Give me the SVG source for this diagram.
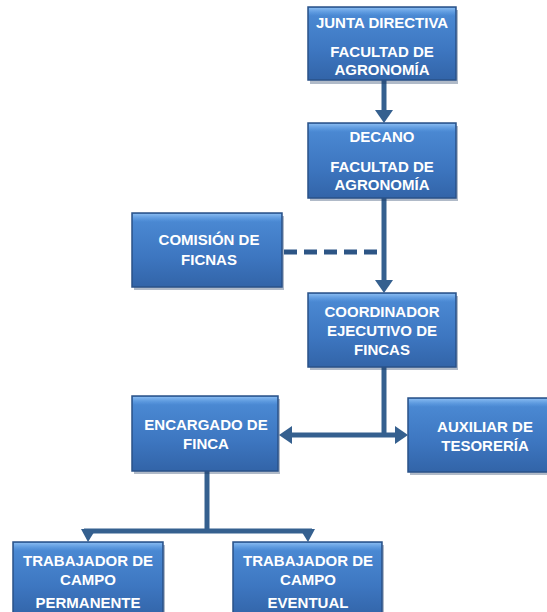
<svg xmlns="http://www.w3.org/2000/svg" width="547" height="612" viewBox="0 0 547 612">
  <defs>
    <linearGradient id="boxFill" x1="0" y1="0" x2="0" y2="1">
      <stop offset="0" stop-color="#5a9ae2"/>
      <stop offset="0.12" stop-color="#4a88d2"/>
      <stop offset="0.6" stop-color="#3d76c0"/>
      <stop offset="1" stop-color="#3264a8"/>
    </linearGradient>
    <linearGradient id="bevelTop" x1="0" y1="0" x2="0" y2="1">
      <stop offset="0" stop-color="#8bbcf0" stop-opacity="0.9"/>
      <stop offset="1" stop-color="#5a9ae2" stop-opacity="0"/>
    </linearGradient>
    <style>
      .box { fill: url(#boxFill); stroke: #2a5288; stroke-width: 1.5; }
      .bev { fill: url(#bevelTop); stroke: none; }
      .shadow { fill: #1d3a60; opacity: 0.35; }
      .lbl { font-family: "Liberation Sans", Arial, sans-serif; font-weight: bold; font-size: 15px; fill: #ffffff; text-anchor: middle; }
      .conn { stroke: #35608f; stroke-width: 5; fill: none; }
      .dash { stroke: #2d5585; stroke-width: 5; fill: none; stroke-dasharray: 13 7; }
      .head { fill: #35608f; }
    </style>
  </defs>

  <g id="connectors">
    <line class="conn" x1="384" y1="80" x2="384" y2="112"/>
    <polygon class="head" points="375,110 393,110 384,123"/>
    <line class="conn" x1="384" y1="198" x2="384" y2="282"/>
    <polygon class="head" points="375,280 393,280 384,293"/>
    <line class="dash" x1="284" y1="252" x2="382" y2="252"/>
    <line class="conn" x1="384" y1="367" x2="384" y2="435"/>
    <line class="conn" x1="290" y1="435" x2="397" y2="435"/>
    <polygon class="head" points="292,426 292,444 279,435"/>
    <polygon class="head" points="395,426 395,444 408,435"/>
    <line class="conn" x1="207" y1="471" x2="207" y2="531"/>
    <line class="conn" x1="84" y1="531" x2="312" y2="531"/>
    <polygon class="head" points="81,529 96,529 88,542"/>
    <polygon class="head" points="300,529 315,529 308,542"/>
  </g>

  <g id="junta">
    <rect class="shadow" x="310" y="10" width="148" height="74"/>
    <rect class="box" x="308" y="7" width="148" height="73"/>
    <rect class="bev" x="309" y="8" width="146" height="8"/>
    <text class="lbl" x="382" y="28">JUNTA DIRECTIVA</text>
    <text class="lbl" x="382" y="57">FACULTAD DE</text>
    <text class="lbl" x="382" y="75">AGRONOMÍA</text>
  </g>

  <g id="decano">
    <rect class="shadow" x="310" y="126" width="148" height="75"/>
    <rect class="box" x="308" y="123" width="148" height="75"/>
    <rect class="bev" x="309" y="124" width="146" height="8"/>
    <text class="lbl" x="382" y="142">DECANO</text>
    <text class="lbl" x="382" y="172">FACULTAD DE</text>
    <text class="lbl" x="382" y="190">AGRONOMÍA</text>
  </g>

  <g id="comision">
    <rect class="shadow" x="134" y="216" width="150" height="74"/>
    <rect class="box" x="132" y="213" width="150" height="74"/>
    <rect class="bev" x="133" y="214" width="148" height="8"/>
    <text class="lbl" x="209" y="245">COMISIÓN DE</text>
    <text class="lbl" x="209" y="265">FICNAS</text>
  </g>

  <g id="coordinador">
    <rect class="shadow" x="310" y="296" width="148" height="74"/>
    <rect class="box" x="308" y="293" width="148" height="74"/>
    <rect class="bev" x="309" y="294" width="146" height="8"/>
    <text class="lbl" x="382" y="317">COORDINADOR</text>
    <text class="lbl" x="382" y="336">EJECUTIVO DE</text>
    <text class="lbl" x="382" y="355">FINCAS</text>
  </g>

  <g id="encargado">
    <rect class="shadow" x="134" y="399" width="146" height="75"/>
    <rect class="box" x="132" y="396" width="146" height="75"/>
    <rect class="bev" x="133" y="397" width="144" height="8"/>
    <text class="lbl" x="206" y="430">ENCARGADO DE</text>
    <text class="lbl" x="206" y="449">FINCA</text>
  </g>

  <g id="auxiliar">
    <rect class="shadow" x="410" y="401" width="139" height="74"/>
    <rect class="box" x="408" y="398" width="140" height="74"/>
    <rect class="bev" x="409" y="399" width="138" height="8"/>
    <text class="lbl" x="485" y="432">AUXILIAR DE</text>
    <text class="lbl" x="485" y="451">TESORERÍA</text>
  </g>

  <g id="trabajador-permanente">
    <rect class="shadow" x="15" y="545" width="150" height="72"/>
    <rect class="box" x="13" y="542" width="150" height="75"/>
    <rect class="bev" x="14" y="543" width="148" height="8"/>
    <text class="lbl" x="88" y="566">TRABAJADOR DE</text>
    <text class="lbl" x="88" y="585">CAMPO</text>
    <text class="lbl" x="88" y="608">PERMANENTE</text>
  </g>

  <g id="trabajador-eventual">
    <rect class="shadow" x="235" y="545" width="149" height="72"/>
    <rect class="box" x="233" y="542" width="149" height="75"/>
    <rect class="bev" x="234" y="543" width="147" height="8"/>
    <text class="lbl" x="308" y="566">TRABAJADOR DE</text>
    <text class="lbl" x="308" y="585">CAMPO</text>
    <text class="lbl" x="308" y="608">EVENTUAL</text>
  </g>
</svg>
